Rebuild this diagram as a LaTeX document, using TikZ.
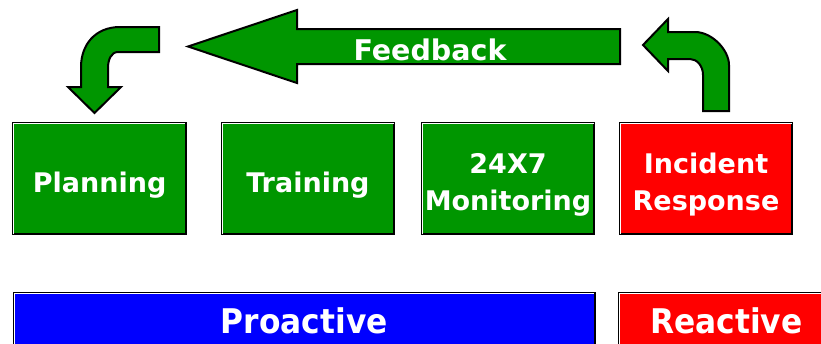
\documentclass[tikz,border=0pt]{standalone}
\usepackage{fontspec}
\setmainfont{DejaVu Sans}
\newfontfamily\narrowfont[FakeStretch=0.92]{DejaVu Sans}
\usepackage{tikz}
\definecolor{fbgreen}{RGB}{0,150,0}
\definecolor{fbred}{RGB}{255,0,0}
\definecolor{fbblue}{RGB}{0,0,255}
\tikzset{
  blockarrow/.style={draw=black, line width=2pt, fill=fbgreen, line join=miter},
  phasebox/.style={draw=black, line width=2pt, minimum width=172.5pt, minimum height=110.7pt, inner sep=0pt},
  phasetext/.style={text=white, align=center, font=\fontsize{27}{37}\selectfont\bfseries},
  sidebox/.style={draw=black, line width=2pt, minimum height=55.7pt, inner sep=0pt,
    text=white, font=\narrowfont\fontsize{34}{40}\selectfont\bfseries},
  highlight/.style={white, line width=1pt}
}

\begin{document}
\begin{tikzpicture}[x=1pt,y=-1pt]
        \clip (0,0) rectangle (821,343);
        \fill[white] (0,0) rectangle (821,343);
        % feedback arrow
        \draw[blockarrow] (620,29) -- (297,29) -- (297,10) -- (188,46.5) -- (297,83) -- (297,64) -- (620,64) -- cycle;
        \node[text=white, font=\fontsize{28.5}{30}\selectfont\bfseries, anchor=base] (fb) at (430,60) {Feedback};
        % turn down into planning
        \draw[blockarrow] (159,27) -- (120,27) .. controls (95,27) and (81,45) .. (81,67)
          -- (81,87) -- (68,87) -- (94.5,113) -- (121,87) -- (108,87) -- (108,68)
          .. controls (108,60) and (111,52) .. (118,52) -- (159,52) -- cycle;
        % turn up out of incident response
        \draw[blockarrow] (729,111) -- (729,65) .. controls (729,50) and (712,32) .. (695,32)
          -- (668,32) -- (668,19) -- (643,45) -- (668,71) -- (668,59) -- (690,59)
          .. controls (697,59) and (703,66) .. (703,75) -- (703,111) -- cycle;
        % phases
        \node[phasebox, fill=fbgreen] (plan) at (99.7,178.7) {};
        \node[phasebox, fill=fbgreen] (train) at (307.9,178.7) {};
        \node[phasebox, fill=fbgreen] (mon) at (508,178.7) {};
        \node[phasebox, fill=fbred] (inc) at (706,178.7) {};
        \node[phasetext] (plan-t) at ([yshift=-6pt]plan.center) {Planning};
        \node[phasetext] (train-t) at ([yshift=-6pt]train.center) {Training};
        \node[phasetext] (mon-t) at ([yshift=-6pt]mon.center) {24X7\\Monitoring};
        \node[phasetext] (inc-t) at ([yshift=-6pt]inc.center) {Incident\\Response};
        % proactive / reactive
        \node[sidebox, fill=fbblue, minimum width=581pt] (pro) at (304.2,321.2) {Proactive};
        \node[sidebox, fill=fbred, minimum width=213.7pt] (rea) at (726.2,321.2) {Reactive};
        \foreach \n in {plan,train,mon,inc,pro,rea}
          \draw[highlight] ([shift={(1.5,-1.5)}]\n.south west) |- ([shift={(-1.5,1.5)}]\n.north east);
\end{tikzpicture}
\end{document}
